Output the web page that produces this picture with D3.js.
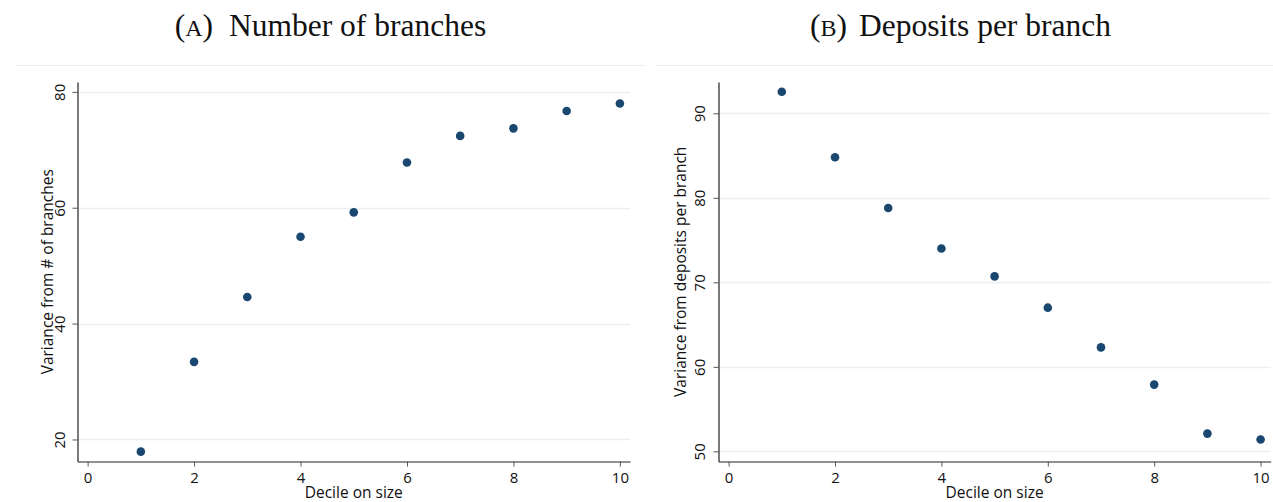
<!DOCTYPE html>
<html>
<head>
<meta charset="utf-8">
<script src="https://cdn.jsdelivr.net/npm/d3@7"></script>
<style>
  html, body { margin: 0; padding: 0; background: #fff; }
  svg { display: block; }
  .tick text { font-family: "Open Sans", sans-serif; font-size: 15px; fill: #111; }
  .axis-title { font-family: "Open Sans", sans-serif; font-size: 15.5px; fill: #111; }
  .panel-title { font-family: "Liberation Serif", serif; font-size: 31.5px; fill: #111; }
</style>
</head>
<body>
<svg id="chart" width="1273" height="502"></svg>
<script>
// Decile of bank size
const deciles = [1, 2, 3, 4, 5, 6, 7, 8, 9, 10];
// Share of variance explained by number of branches (%)
const branchVariance = [17.9, 33.4, 44.6, 55.0, 59.2, 67.8, 72.4, 73.7, 76.7, 78.0];
// Share of variance explained by deposits per branch (%)
const depositVariance = [92.55, 84.8, 78.8, 74.0, 70.7, 67.0, 62.3, 57.9, 52.1, 51.4];

const xTicks = [0, 2, 4, 6, 8, 10];
const branchTicks = [20, 40, 60, 80];
const depositTicks = [50, 60, 70, 80, 90];

const xTitle = "Decile on size";

const panels = [
  {
    tag: "A", title: "Number of branches",
    yTitle: "Variance from # of branches",
    values: branchVariance, yTicks: branchTicks,
    xDomain: [-0.19, 10.19], yDomain: [16.2, 81.7],
    left: 77.5, right: 630, top: 82, bottom: 461.5,
    frame: [15, 646],
    tagEnd: 213, titleStart: 229,
    tickGap: 13, titleGap: 25
  },
  {
    tag: "B", title: "Deposits per branch",
    yTitle: "Variance from deposits per branch",
    values: depositVariance, yTicks: depositTicks,
    xDomain: [-0.19, 10.19], yDomain: [48.8, 93.7],
    left: 718.5, right: 1270.7, top: 82, bottom: 461.5,
    frame: [656, 1273],
    tagEnd: 847, titleStart: 859,
    tickGap: 14, titleGap: 33
  }
];

const svg = d3.select("#chart");
const dotColor = "#1a476f";
const gridColor = "#e9f0f1";
const axisColor = "#222";

panels.forEach(p => {
  const g = svg.append("g");

  const x = d3.scaleLinear().domain(p.xDomain).range([p.left, p.right]);
  const y = d3.scaleLinear().domain(p.yDomain).range([p.bottom, p.top]);

  // faint frame line along the top of the plot region
  g.append("line")
    .attr("x1", p.frame[0]).attr("x2", p.frame[1])
    .attr("y1", 65.5).attr("y2", 65.5)
    .attr("stroke", "#efefef").attr("stroke-width", 1);

  // panel caption: small-caps tag followed by the title
  const cap = g.append("text").attr("class", "panel-title")
    .attr("x", p.tagEnd).attr("y", 36).attr("text-anchor", "end");
  cap.append("tspan").text("(");
  cap.append("tspan").attr("font-size", "24px").text(p.tag);
  cap.append("tspan").text(")");
  g.append("text").attr("class", "panel-title")
    .attr("x", p.titleStart).attr("y", 36).text(p.title);

  // horizontal gridlines
  g.append("g").selectAll("line").data(p.yTicks).join("line")
    .attr("x1", p.left + 1).attr("x2", p.right)
    .attr("y1", d => Math.round(y(d)) + 0.5).attr("y2", d => Math.round(y(d)) + 0.5)
    .attr("stroke", gridColor).attr("stroke-width", 1.3);

  // y axis
  const yAxis = g.append("g")
    .attr("transform", `translate(${p.left},0)`)
    .call(d3.axisLeft(y).tickValues(p.yTicks).tickSize(5).tickSizeOuter(0).tickFormat(d3.format("d")));
  yAxis.select(".domain").attr("stroke", axisColor).attr("stroke-width", 1.2);
  yAxis.selectAll(".tick line").attr("stroke", "#555");
  yAxis.selectAll(".tick text")
    .attr("x", null).attr("dy", null)
    .attr("text-anchor", "middle")
    .attr("transform", `translate(${-p.tickGap},0) rotate(-90)`);

  // x axis
  const xAxis = g.append("g")
    .attr("transform", `translate(0,${p.bottom})`)
    .call(d3.axisBottom(x).tickValues(xTicks).tickSize(5).tickSizeOuter(0).tickFormat(d3.format("d")));
  xAxis.select(".domain").attr("stroke", axisColor).attr("stroke-width", 1.2);
  xAxis.selectAll(".tick line").attr("stroke", "#555");
  xAxis.selectAll(".tick text").attr("y", 21).attr("dy", null);

  // axis titles
  g.append("text").attr("class", "axis-title")
    .attr("text-anchor", "middle")
    .attr("x", (p.left + p.right) / 2).attr("y", 497.5)
    .text(xTitle);
  g.append("text").attr("class", "axis-title")
    .attr("text-anchor", "middle")
    .attr("transform", `translate(${p.left - p.titleGap},${(p.top + p.bottom) / 2}) rotate(-90)`)
    .text(p.yTitle);

  // scatter points
  g.append("g").selectAll("circle").data(deciles).join("circle")
    .attr("cx", (d, i) => x(d))
    .attr("cy", (d, i) => y(p.values[i]))
    .attr("r", 4.3)
    .attr("fill", dotColor);
});
</script>
</body>
</html>
